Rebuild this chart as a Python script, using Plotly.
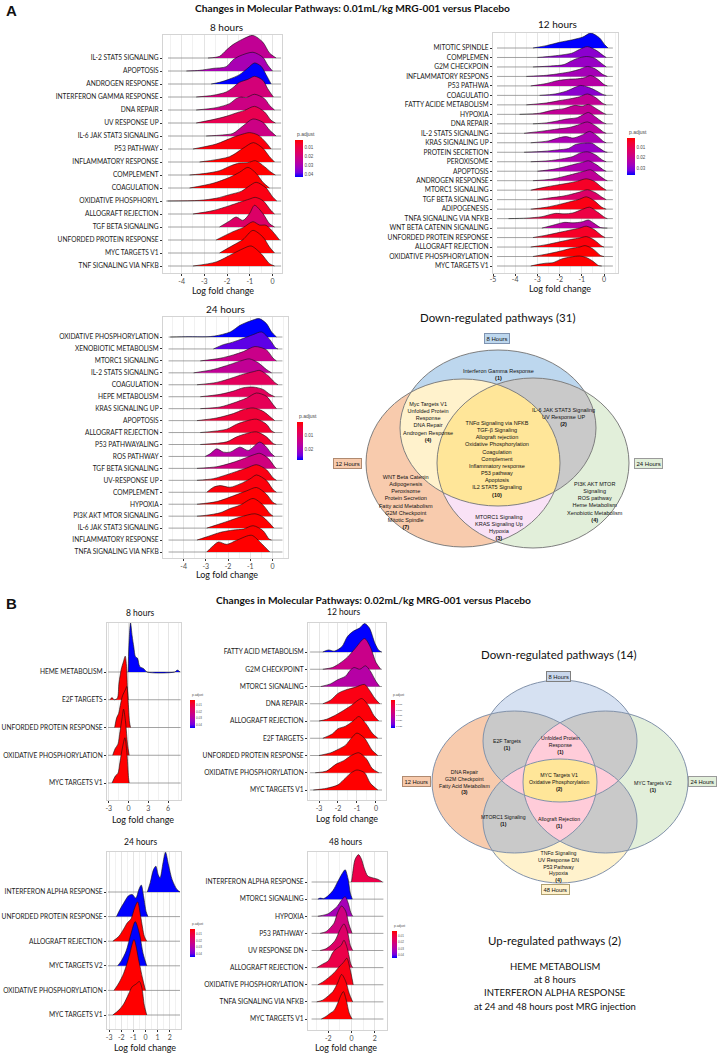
import numpy as np
import plotly.graph_objects as go
from plotly.colors import sample_colorscale

W, H = 717, 1055
CAL = "Lato, 'Open Sans', sans-serif"
ARI = "'Liberation Sans', Arial, sans-serif"

# ---------------------------------------------------------------- data
# each ridge: list of (log fold change, density height in row units)
A8_PATHWAYS = ["IL-2 STAT5 SIGNALING", "APOPTOSIS", "ANDROGEN RESPONSE", "INTERFERON GAMMA RESPONSE",
               "DNA REPAIR", "UV RESPONSE UP", "IL-6 JAK STAT3 SIGNALING", "P53 PATHWAY",
               "INFLAMMATORY RESPONSE", "COMPLEMENT", "COAGULATION", "OXIDATIVE PHOSPHORYL",
               "ALLOGRAFT REJECTION", "TGF BETA SIGNALING", "UNFORDED PROTEIN RESPONSE",
               "MYC TARGETS V1", "TNF SIGNALING VIA NFKB"]
A8_PADJ = [0.024, 0.0295, 0.0426, 0.019, 0.021, 0.0118, 0.0212, 0.0027, 0.0015, 0.0015,
           0.0015, 0.0035, 0.0056, 0.016, 0.0015, 0.0015, 0.0015]
A8_RIDGES = [
    [(-2.84, 0), (-2.33, 0.13), (-2.04, 0.59), (-1.74, 1.03), (-1.30, 1.46), (-0.86, 1.74), (-0.42, 1.21), (-0.13, 0.38), (0.16, 0)],
    [(-3.79, 0), (-3.21, 0.05), (-2.62, 0.2), (-2.04, 0.33), (-1.74, 0.85), (-1.45, 1.15), (-0.86, 1.44), (-0.42, 1.05), (-0.21, 0.46), (0.0, 0)],
    [(-2.70, 0), (-2.33, 0.13), (-1.89, 0.38), (-1.45, 0.72), (-1.08, 1.23), (-0.79, 1.62), (-0.50, 1.36), (-0.28, 0.72), (-0.06, 0)],
    [(-3.36, 0), (-2.62, 0.13), (-2.04, 0.38), (-1.74, 0.72), (-1.45, 1.13), (-1.08, 1.36), (-0.79, 1.59), (-0.42, 1.28), (-0.21, 0.64), (0.04, 0)],
    [(-3.36, 0), (-2.48, 0.18), (-1.89, 0.49), (-1.60, 0.87), (-1.38, 1.0), (-1.16, 0.95), (-0.79, 1.21), (-0.35, 0.87), (-0.13, 0.36), (0.09, 0)],
    [(-3.36, 0), (-2.62, 0.26), (-2.04, 0.51), (-1.60, 0.77), (-1.23, 0.97), (-0.79, 1.28), (-0.35, 0.85), (-0.06, 0.21), (0.13, 0)],
    [(-2.92, 0), (-2.2, 0.08), (-1.74, 0.2), (-1.30, 0.77), (-0.86, 1.31), (-0.42, 1.05), (-0.13, 0.46), (0.16, 0)],
    [(-3.50, 0), (-2.48, 0.38), (-1.74, 0.90), (-1.30, 1.15), (-1.01, 1.26), (-0.64, 1.08), (-0.28, 0.49), (-0.06, 0)],
    [(-3.21, 0), (-1.89, 0.41), (-1.30, 1.05), (-0.84, 1.49), (-0.42, 1.05), (-0.13, 0.41), (0.09, 0)],
    [(-3.65, 0), (-2.92, 0.13), (-2.33, 0.33), (-1.82, 0.72), (-1.45, 0.92), (-1.08, 0.95), (-0.75, 1.10), (-0.35, 0.64), (-0.06, 0.21), (0.13, 0)],
    [(-3.65, 0), (-2.62, 0.36), (-1.89, 0.82), (-1.45, 1.21), (-1.08, 1.59), (-0.72, 1.13), (-0.42, 0.44), (-0.13, 0)],
    [(-4.67, 0), (-3.21, 0.05), (-2.48, 0.21), (-1.89, 0.49), (-1.38, 0.74), (-1.04, 1.13), (-0.72, 1.44), (-0.28, 1.0), (0.01, 0.31), (0.19, 0)],
    [(-3.50, 0), (-2.62, 0.26), (-1.89, 0.64), (-1.45, 0.90), (-1.01, 1.15), (-0.76, 1.28), (-0.42, 1.03), (-0.06, 0.26), (0.09, 0)],
    [(-2.33, 0), (-1.89, 0.46), (-1.60, 0.77), (-1.30, 0.51), (-1.01, 1.03), (-0.79, 1.67), (-0.42, 1.03), (-0.13, 0.26), (0.09, 0)],
    [(-2.48, 0), (-1.74, 0.64), (-1.30, 0.95), (-0.86, 1.41), (-0.57, 1.15), (-0.28, 1.13), (0.09, 0.49), (0.31, 0)],
    [(-2.33, 0), (-1.74, 0.59), (-1.30, 1.03), (-0.86, 1.74), (-0.42, 1.23), (-0.13, 0.46), (0.09, 0)],
    [(-3.50, 0), (-2.48, 0.31), (-1.74, 0.95), (-1.30, 1.33), (-0.94, 1.54), (-0.50, 0.95), (-0.13, 0.18), (0.09, 0)],
]
A8_TICKS = [-4, -3, -2, -1, 0]
A8_CBAR_TICKS = [0.01, 0.02, 0.03, 0.04]

A12_PATHWAYS = ["MITOTIC SPINDLE", "COMPLEMEN", "G2M CHECKPOIN", "INFLAMMATORY RESPONS", "P53 PATHWA",
                "COAGULATIO", "FATTY ACIDE METABOLISM", "HYPOXIA", "DNA REPAIR", "IL-2 STATS SIGNALING",
                "KRAS SIGNALING UP", "PROTEIN SECRETION", "PEROXISOME", "APOPTOSIS", "ANDROGEN RESPONSE",
                "MTORC1 SIGNALING", "TGF BETA SIGNALING", "ADIPOGENESIS", "TNFA SIGNALING VIA NFKB",
                "WNT BETA CATENIN SIGNALING", "UNFORDED PROTEIN RESPONSE", "ALLOGRAFT REJECTION",
                "OXIDATIVE PHOSPHORYLATION", "MYC TARGETS V1"]
A12_PADJ = [0.0364, 0.0293, 0.0279, 0.0258, 0.0230, 0.0293, 0.0205, 0.0205, 0.0230, 0.0223,
            0.0251, 0.0279, 0.0244, 0.0244, 0.0209, 0.0046, 0.0135, 0.0029, 0.0082, 0.0223,
            0.0046, 0.0022, 0.0011, 0.0011]
A12_RIDGES = [
    [(-3.2, 0), (-2.6, 0.25), (-2.0, 0.6), (-1.4, 0.88), (-0.95, 1.16), (-0.6, 1.58), (-0.2, 1.06), (0.03, 0.35), (0.18, 0)],
    [(-3.0, 0), (-2.3, 0.15), (-1.8, 0.3), (-1.45, 0.45), (-1.1, 0.85), (-0.75, 1.15), (-0.35, 0.75), (0.0, 0.15), (0.1, 0)],
    [(-3.2, 0), (-2.4, 0.1), (-1.8, 0.25), (-1.5, 0.6), (-1.2, 0.9), (-0.8, 1.1), (-0.45, 0.95), (-0.1, 0.35), (0.1, 0)],
    [(-3.5, 0), (-2.6, 0.12), (-2.0, 0.3), (-1.5, 0.5), (-1.1, 0.75), (-0.75, 1.05), (-0.4, 0.8), (-0.05, 0.2), (0.15, 0)],
    [(-3.3, 0), (-2.6, 0.25), (-2.1, 0.55), (-1.6, 0.7), (-1.2, 0.75), (-0.9, 0.85), (-0.6, 1.1), (-0.3, 0.75), (0.0, 0.15), (0.15, 0)],
    [(-2.9, 0), (-2.2, 0.15), (-1.7, 0.45), (-1.3, 0.85), (-1.05, 1.05), (-0.7, 0.85), (-0.4, 0.55), (-0.05, 0.1), (0.1, 0)],
    [(-3.5, 0), (-2.6, 0.2), (-2.0, 0.45), (-1.5, 0.65), (-1.1, 0.85), (-0.75, 1.15), (-0.4, 0.8), (-0.05, 0.15), (0.1, 0)],
    [(-3.8, 0), (-2.9, 0.12), (-2.3, 0.45), (-1.8, 0.6), (-1.3, 0.95), (-1.0, 0.85), (-0.7, 1.05), (-0.35, 0.6), (0.0, 0.1), (0.1, 0)],
    [(-3.2, 0), (-2.6, 0.1), (-2.1, 0.3), (-1.7, 0.5), (-1.2, 0.65), (-0.95, 0.95), (-0.7, 1.2), (-0.4, 0.75), (-0.05, 0.15), (0.1, 0)],
    [(-3.6, 0), (-2.7, 0.25), (-2.1, 0.45), (-1.6, 0.6), (-1.2, 0.85), (-0.75, 1.2), (-0.4, 0.8), (0.0, 0.1), (0.1, 0)],
    [(-3.3, 0), (-2.5, 0.2), (-2.0, 0.55), (-1.7, 0.65), (-1.4, 0.5), (-1.0, 0.8), (-0.65, 1.2), (-0.35, 0.8), (0.0, 0.1), (0.1, 0)],
    [(-3.6, 0), (-2.7, 0.1), (-2.1, 0.25), (-1.6, 0.4), (-1.3, 0.8), (-0.95, 0.95), (-0.55, 0.95), (-0.25, 0.5), (0.05, 0.05), (0.15, 0)],
    [(-3.3, 0), (-2.5, 0.1), (-1.9, 0.3), (-1.4, 0.55), (-1.1, 0.9), (-0.75, 1.05), (-0.4, 0.75), (-0.05, 0.15), (0.1, 0)],
    [(-3.0, 0), (-2.3, 0.2), (-1.8, 0.45), (-1.3, 0.75), (-0.95, 0.95), (-0.7, 1.1), (-0.35, 0.7), (0.0, 0.1), (0.1, 0)],
    [(-3.2, 0), (-2.4, 0.15), (-1.8, 0.45), (-1.3, 0.75), (-0.9, 1.0), (-0.6, 1.15), (-0.25, 0.6), (0.05, 0.1), (0.15, 0)],
    [(-3.3, 0), (-2.7, 0.3), (-2.1, 0.55), (-1.6, 0.75), (-1.2, 0.95), (-0.8, 1.2), (-0.45, 0.95), (-0.1, 0.3), (0.1, 0)],
    [(-3.0, 0), (-2.4, 0.2), (-1.9, 0.35), (-1.5, 0.55), (-1.1, 0.8), (-0.75, 1.05), (-0.4, 0.75), (-0.05, 0.2), (0.1, 0)],
    [(-3.3, 0), (-2.6, 0.2), (-2.0, 0.5), (-1.5, 0.8), (-1.1, 1.05), (-0.8, 1.3), (-0.45, 0.9), (-0.1, 0.2), (0.1, 0)],
    [(-4.3, 0), (-3.5, 0.05), (-2.8, 0.2), (-2.2, 0.55), (-1.8, 0.5), (-1.4, 0.6), (-1.0, 0.95), (-0.65, 1.2), (-0.3, 0.7), (0.05, 0.1), (0.15, 0)],
    [(-2.8, 0), (-2.3, 0.3), (-1.8, 0.6), (-1.4, 0.55), (-1.0, 0.65), (-0.7, 0.85), (-0.45, 0.5), (-0.15, 0.05), (0.15, 0)],
    [(-3.2, 0), (-2.6, 0.25), (-2.0, 0.55), (-1.5, 0.8), (-1.1, 1.0), (-0.8, 1.2), (-0.45, 0.85), (-0.1, 0.2), (0.05, 0)],
    [(-3.3, 0), (-2.6, 0.25), (-2.0, 0.55), (-1.5, 0.8), (-1.1, 0.95), (-0.8, 1.1), (-0.45, 0.75), (-0.1, 0.1), (0.0, 0)],
    [(-3.2, 0), (-2.6, 0.25), (-2.0, 0.55), (-1.5, 0.85), (-1.1, 1.0), (-0.85, 1.15), (-0.5, 0.8), (-0.15, 0.1), (0.0, 0)],
    [(-3.3, 0), (-2.9, 0.2), (-2.6, 0.3), (-2.3, 0.35), (-1.9, 0.75), (-1.5, 0.95), (-1.1, 1.05), (-0.8, 0.9), (-0.5, 0.5), (-0.25, 0.05), (-0.1, 0)],
]
A12_TICKS = [-5, -4, -3, -2, -1, 0]
A12_CBAR_TICKS = [0.01, 0.02, 0.03]

A24_PATHWAYS = ["OXIDATIVE PHOSPHORYLATION", "XENOBIOTIC METABOLISM", "MTORC1 SIGNALING", "IL-2 STATS SIGNALING",
                "COAGULATION", "HEPE METABOLISM", "KRAS SIGNALING UP", "APOPTOSIS", "ALLOGRAFT REJECTION",
                "P53 PATHWAYALING", "ROS PATHWAY", "TGF BETA SIGNALING", "UV-RESPONSE UP", "COMPLEMENT",
                "HYPOXIA", "PI3K AKT MTOR SIGNALING", "IL-6 JAK STAT3 SIGNALING", "INFLAMMATORY RESPONSE",
                "TNFA SIGNALING VIA NFKB"]
A24_PADJ = [0.0279, 0.0251, 0.0140, 0.0154, 0.0084, 0.0084, 0.0079, 0.0043, 0.0034, 0.0034,
            0.0168, 0.0126, 0.0015, 0.0009, 0.0001, 0.0001, 0.0001, 0.0001, 0.0001]
A24_RIDGES = [
    [(-4.6, 0), (-3.8, 0.03), (-3.0, 0.02), (-2.6, 0.08), (-1.9, 0.42), (-1.46, 0.98), (-1.0, 1.34), (-0.6, 1.54), (-0.27, 1.12), (-0.04, 0.42), (0.18, 0)],
    [(-2.66, 0), (-2.21, 0.36), (-1.91, 0.5), (-1.46, 0.78), (-0.87, 1.2), (-0.49, 1.42), (-0.12, 0.78), (0.15, 0.08), (0.25, 0)],
    [(-3.25, 0), (-2.36, 0.22), (-1.76, 0.5), (-1.31, 0.78), (-0.79, 1.2), (-0.27, 0.92), (0.03, 0.22), (0.18, 0)],
    [(-3.55, 0), (-2.66, 0.28), (-1.91, 0.7), (-1.46, 0.98), (-1.04, 1.17), (-0.64, 0.84), (-0.27, 0.28), (-0.04, 0)],
    [(-3.40, 0), (-2.51, 0.2), (-1.76, 0.61), (-1.31, 0.89), (-0.87, 1.09), (-0.57, 1.2), (-0.19, 0.75), (0.10, 0.2), (0.25, 0)],
    [(-3.25, 0), (-2.36, 0.2), (-1.76, 0.47), (-1.31, 0.75), (-0.87, 0.81), (-0.42, 0.61), (-0.12, 0.2), (0.10, 0)],
    [(-3.25, 0), (-2.36, 0.14), (-1.76, 0.47), (-1.16, 0.89), (-0.72, 1.31), (-0.27, 1.03), (0.03, 0.34), (0.18, 0)],
    [(-3.40, 0), (-2.51, 0.22), (-1.76, 0.59), (-1.31, 0.92), (-0.87, 1.06), (-0.42, 0.78), (-0.04, 0.22), (0.10, 0)],
    [(-3.25, 0), (-2.06, 0.28), (-1.61, 0.7), (-1.16, 0.98), (-0.72, 1.12), (-0.27, 0.7), (-0.04, 0.14), (0.10, 0)],
    [(-3.25, 0), (-2.06, 0.22), (-1.61, 0.64), (-1.16, 0.92), (-0.72, 1.06), (-0.27, 0.64), (0.03, 0.08), (0.15, 0)],
    [(-3.03, 0), (-2.81, 0.22), (-2.51, 0.64), (-2.21, 0.36), (-1.91, 0.36), (-1.46, 0.78), (-1.09, 0.5), (-0.57, 1.2), (-0.27, 0.78), (-0.04, 0.22), (0.10, 0)],
    [(-3.40, 0), (-2.51, 0.14), (-1.91, 0.42), (-1.46, 0.7), (-0.87, 1.12), (-0.57, 1.26), (-0.19, 0.84), (0.10, 0.14), (0.18, 0)],
    [(-3.40, 0), (-2.66, 0.14), (-2.06, 0.47), (-1.61, 0.75), (-1.16, 1.03), (-0.72, 1.31), (-0.27, 0.89), (0.03, 0.2), (0.18, 0)],
    [(-2.96, 0), (-2.66, 0.42), (-2.36, 0.56), (-1.91, 0.42), (-1.46, 0.7), (-1.01, 1.12), (-0.72, 1.45), (-0.27, 0.98), (0.03, 0.22), (0.18, 0)],
    [(-3.40, 0), (-2.51, 0.22), (-1.76, 0.7), (-1.16, 1.12), (-0.72, 1.4), (-0.27, 0.84), (0.03, 0.14), (0.18, 0)],
    [(-3.40, 0), (-2.96, 0.08), (-2.36, 0.28), (-1.91, 0.64), (-1.46, 0.92), (-0.87, 1.48), (-0.42, 0.92), (-0.12, 0.22), (0.03, 0)],
    [(-2.96, 0), (-2.36, 0.36), (-1.91, 0.64), (-1.46, 0.92), (-0.79, 1.2), (-0.42, 0.92), (-0.04, 0.22), (0.06, 0)],
    [(-3.40, 0), (-2.81, 0.36), (-2.36, 0.64), (-1.76, 0.84), (-1.31, 0.92), (-0.87, 1.2), (-0.42, 0.78), (-0.15, 0.08), (-0.04, 0)],
    [(-2.96, 0), (-2.73, 0.42), (-2.43, 0.84), (-2.06, 0.64), (-1.61, 0.98), (-0.94, 1.4), (-0.49, 0.7), (-0.12, 0)],
]
A24_TICKS = [-4, -3, -2, -1, 0]
A24_CBAR_TICKS = [0.01, 0.02]

B8_PATHWAYS = ["HEME METABOLISM", "E2F TARGETS", "UNFORDED PROTEIN RESPONSE", "OXIDATIVE PHOSPHORYLATION", "MYC TARGETS V1"]
B8_PADJ = [0.045, 0.002, 0.002, 0.002, 0.002]
B8_RIDGES = [
    [(-0.05, 0), (0.05, 0.9), (0.3, 1.78), (0.55, 1.3), (0.8, 0.9), (1.05, 0.55), (1.35, 0.5), (1.7, 0.2), (2.3, 0.12), (2.8, 0), (7.0, 0), (7.4, 0.07), (7.8, 0)],
    [(-2.8, 0), (-2.5, 0.08), (-2.2, 0), (-1.7, 0.05), (-1.45, 0.6), (-1.1, 1.1), (-0.8, 1.35), (-0.5, 1.57), (-0.3, 1.2), (-0.15, 0.3), (-0.05, 0)],
    [(-2.1, 0), (-1.8, 0.35), (-1.5, 0.5), (-1.25, 0.8), (-0.9, 1.15), (-0.5, 1.35), (-0.25, 1.48), (-0.05, 0.9), (0.15, 0.2), (0.3, 0)],
    [(-2.4, 0), (-2.0, 0.25), (-1.6, 0.4), (-1.3, 0.85), (-1.0, 1.3), (-0.75, 1.66), (-0.45, 1.2), (-0.15, 0.4), (0.1, 0)],
    [(-2.5, 0), (-2.0, 0.25), (-1.6, 0.35), (-1.3, 0.75), (-0.9, 1.3), (-0.55, 1.63), (-0.25, 1.1), (0.0, 0.2), (0.1, 0)],
]
B8_TICKS = [-3, 0, 3, 6]
B8_CBAR_TICKS = [0.01, 0.02, 0.03, 0.04]

B12_PATHWAYS = ["FATTY ACID METABOLISM", "G2M CHECKPOINT", "MTORC1 SIGNALING", "DNA REPAIR", "ALLOGRAFT REJECTION",
                "E2F TARGETS", "UNFORDED PROTEIN RESPONSE", "OXIDATIVE PHOSPHORYLATION", "MYC TARGETS V1"]
B12_PADJ = [0.027, 0.014, 0.0171, 0.0023, 0.0015, 0.001, 0.001, 0.001, 0.001]
B12_RIDGES = [
    [(-2.8, 0), (-2.5, 0.12), (-2.2, 0.05), (-1.8, 0.3), (-1.5, 0.9), (-1.2, 1.2), (-0.85, 1.4), (-0.6, 1.65), (-0.35, 1.4), (-0.05, 0.5), (0.15, 0.1), (0.3, 0)],
    [(-2.8, 0), (-2.3, 0.1), (-1.9, 0.35), (-1.5, 0.7), (-1.1, 1.2), (-0.6, 1.78), (-0.3, 1.3), (0.0, 0.4), (0.25, 0)],
    [(-2.9, 0), (-2.4, 0.15), (-2.0, 0.4), (-1.6, 0.6), (-1.35, 0.95), (-1.15, 1.1), (-0.85, 1.0), (-0.55, 1.2), (-0.3, 0.9), (0.0, 0.3), (0.2, 0)],
    [(-2.8, 0), (-2.4, 0.2), (-2.0, 0.6), (-1.6, 0.8), (-1.1, 0.95), (-0.6, 1.12), (-0.35, 0.8), (-0.05, 0.3), (0.2, 0)],
    [(-3.0, 0), (-2.6, 0.1), (-2.2, 0.3), (-1.8, 0.55), (-1.3, 0.9), (-0.75, 1.3), (-0.4, 0.9), (-0.1, 0.3), (0.15, 0)],
    [(-2.8, 0), (-2.3, 0.25), (-2.0, 0.55), (-1.6, 0.7), (-1.2, 1.0), (-0.9, 1.26), (-0.5, 0.8), (-0.2, 0.3), (0.1, 0)],
    [(-3.0, 0), (-2.4, 0.15), (-2.0, 0.35), (-1.6, 0.6), (-1.3, 1.0), (-1.0, 1.3), (-0.6, 1.0), (-0.2, 0.3), (0.1, 0)],
    [(-3.2, 0), (-2.6, 0.1), (-2.1, 0.5), (-1.7, 0.7), (-1.3, 1.0), (-0.9, 1.16), (-0.5, 0.8), (-0.2, 0.25), (0.15, 0)],
    [(-3.3, 0), (-2.6, 0.1), (-2.0, 0.3), (-1.6, 0.7), (-1.3, 1.0), (-1.0, 1.16), (-0.6, 1.0), (-0.3, 0.4), (0.1, 0)],
]
B12_TICKS = [-3, -2, -1, 0]
B12_CBAR_TICKS = [0.005, 0.010, 0.015, 0.020, 0.025]

B24_PATHWAYS = ["INTERFERON ALPHA RESPONSE", "UNFORDED PROTEIN RESPONSE", "ALLOGRAFT REJECTION",
                "MYC TARGETS V2", "OXIDATIVE PHOSPHORYLATION", "MYC TARGETS V1"]
B24_PADJ = [0.045, 0.045, 0.002, 0.045, 0.002, 0.002]
B24_RIDGES = [
    [(0.15, 0), (0.4, 0.4), (0.65, 0.9), (0.85, 1.05), (1.05, 0.7), (1.2, 0.57), (1.45, 1.2), (1.65, 1.62), (1.9, 1.1), (2.2, 0.5), (2.6, 0.1), (2.85, 0)],
    [(-2.4, 0), (-2.1, 0.3), (-1.8, 0.55), (-1.4, 0.85), (-1.1, 0.9), (-0.8, 0.75), (-0.55, 1.1), (-0.35, 1.28), (-0.15, 0.8), (0.05, 0.2), (0.2, 0)],
    [(-2.7, 0), (-2.2, 0.2), (-1.8, 0.5), (-1.5, 0.75), (-1.2, 0.9), (-0.9, 1.35), (-0.65, 1.6), (-0.4, 1.0), (-0.1, 0.2), (0.1, 0)],
    [(-2.3, 0), (-2.0, 0.2), (-1.6, 0.6), (-1.2, 1.3), (-0.85, 1.8), (-0.5, 1.3), (-0.2, 0.5), (0.1, 0)],
    [(-2.6, 0), (-2.2, 0.3), (-1.8, 0.7), (-1.4, 1.3), (-0.95, 2.06), (-0.55, 1.2), (-0.25, 0.5), (0.0, 0)],
    [(-2.7, 0), (-2.2, 0.2), (-1.8, 0.45), (-1.4, 0.85), (-1.1, 1.15), (-0.8, 1.25), (-0.5, 1.36), (-0.3, 1.1), (-0.1, 0.4), (0.1, 0)],
]
B24_TICKS = [-3, -2, -1, 0, 1, 2]
B24_CBAR_TICKS = [0.01, 0.02, 0.03, 0.04]

B48_PATHWAYS = ["INTERFERON ALPHA RESPONSE", "MTORC1 SIGNALING", "HYPOXIA", "P53 PATHWAY", "UV RESPONSE DN",
                "ALLOGRAFT REJECTION", "OXIDATIVE PHOSPHORYLATION", "TNFA SIGNALING VIA NFKB", "MYC TARGETS V1"]
B48_PADJ = [0.0115, 0.045, 0.032, 0.0214, 0.017, 0.0115, 0.0042, 0.0029, 0.002]
B48_RIDGES = [
    [(0.0, 0), (0.1, 0.5), (0.3, 1.3), (0.6, 1.6), (0.85, 1.35), (1.1, 0.8), (1.4, 0.35), (1.8, 0.25), (2.3, 0.15), (2.66, 0)],
    [(-2.9, 0), (-2.7, 0.06), (-2.4, 0.03), (-2.1, 0.15), (-1.6, 0.5), (-1.2, 1.0), (-0.8, 1.5), (-0.55, 1.72), (-0.3, 1.2), (-0.1, 0.35), (0.07, 0)],
    [(-2.9, 0), (-2.5, 0.05), (-2.0, 0.15), (-1.6, 0.35), (-1.2, 0.6), (-0.9, 0.9), (-0.55, 1.15), (-0.3, 0.8), (-0.05, 0.2), (0.1, 0)],
    [(-2.7, 0), (-2.2, 0.1), (-1.8, 0.35), (-1.5, 0.6), (-1.2, 1.2), (-0.85, 1.6), (-0.5, 1.3), (-0.25, 0.6), (0.05, 0)],
    [(-2.7, 0), (-2.2, 0.1), (-1.8, 0.3), (-1.4, 0.6), (-1.0, 1.2), (-0.65, 1.55), (-0.35, 1.1), (-0.1, 0.3), (0.1, 0)],
    [(-3.0, 0), (-2.5, 0.2), (-2.0, 0.4), (-1.6, 0.9), (-1.3, 1.1), (-0.9, 1.3), (-0.65, 1.6), (-0.35, 1.1), (-0.05, 0.2), (0.1, 0)],
    [(-2.9, 0), (-2.5, 0.15), (-2.0, 0.4), (-1.5, 0.7), (-1.0, 1.1), (-0.7, 1.3), (-0.4, 1.55), (-0.15, 1.0), (0.15, 0)],
    [(-3.0, 0), (-2.5, 0.1), (-2.0, 0.35), (-1.6, 0.6), (-1.2, 1.1), (-0.85, 1.6), (-0.5, 1.2), (-0.2, 0.5), (0.1, 0)],
    [(-2.6, 0), (-2.2, 0.15), (-1.8, 0.35), (-1.5, 0.5), (-1.2, 0.9), (-0.9, 1.4), (-0.7, 1.6), (-0.45, 1.1), (-0.2, 0.35), (0.05, 0)],
]
B48_TICKS = [-2, 0, 2]
B48_CBAR_TICKS = [0.01, 0.02, 0.03, 0.04]

# Venn diagram texts
VENN_A_TITLE = "Down-regulated pathways (31)"
VENN_A_SETS = ["8 Hours", "12 Hours", "24 Hours"]
VENN_A_TEXT = [
    ["Interferon Gamma Response", "(1)"],
    ["Myc Targets V1", "Unfolded Protein", "Response", "DNA Repair", "Androgen Response", "(4)"],
    ["IL-6 JAK STAT3 Signaling", "UV Response UP", "(2)"],
    ["TNFα Signaling via NFKB", "TGF-β Signaling", "Allograft rejection", "Oxidative Phosphorylation",
     "Coagulation", "Complement", "Inflammatory response", "P53 pathway", "Apoptosis", "IL2 STAT5 Signaling", "(10)"],
    ["WNT Beta Catenin", "Adipogenesis", "Peroxisome", "Protein Secretion", "Fatty acid Metabolism",
     "G2M Checkpoint", "Mitotic Spindle", "(7)"],
    ["PI3K AKT MTOR", "Signaling", "ROS pathway", "Heme Metabolism", "Xenobiotic Metabolism", "(4)"],
    ["MTORC1 Signaling", "KRAS Signaling Up", "Hypoxia", "(3)"],
]
VENN_B_TITLE = "Down-regulated pathways (14)"
VENN_B_SETS = ["8 Hours", "12 Hours", "24 Hours", "48 Hours"]
VENN_B_TEXT = [
    ["E2F Targets", "(1)"],
    ["Unfolded Protein", "Response", "(1)"],
    ["DNA Repair", "G2M Checkpoint", "Fatty Acid Metabolism", "(3)"],
    ["MYC Targets V1", "Oxidative Phosphorylation", "(2)"],
    ["MYC Targets V2", "(1)"],
    ["MTORC1 Signaling", "(1)"],
    ["Allograft Rejection", "(1)"],
    ["TNFα Signaling", "UV Response DN", "P53 Pathway", "Hypoxia", "(4)"],
]
UP_TITLE = "Up-regulated pathways (2)"
UP_LINES = ["HEME METABOLISM", "at 8 hours", "INTERFERON ALPHA RESPONSE", "at 24 and 48 hours post MRG injection"]

TITLE_A = "Changes in Molecular Pathways: 0.01mL/kg MRG-001 versus Placebo"
TITLE_B = "Changes in Molecular Pathways: 0.02mL/kg MRG-001 versus Placebo"

# ---------------------------------------------------------------- styling / layout
PADJ_SCALE = [[0, '#FF0000'], [0.125, '#F40031'], [0.25, '#E80050'], [0.375, '#DA006C'], [0.5, '#C90089'],
              [0.625, '#B500A6'], [0.75, '#9B00C3'], [0.875, '#7300E0'], [1, '#0000FF']]
REV_SCALE = [[round(1 - s, 4), c] for s, c in reversed(PADJ_SCALE)]

PANELS = [
    dict(names=A8_PATHWAYS, padj=A8_PADJ, ridges=A8_RIDGES, ticks=A8_TICKS, minor=(0, 0.5), cticks=A8_CBAR_TICKS,
         box=(163, 282, 35, 273), rows=(58, 266), xr=(-4.82, 0.42), span=(-4.6, 0.38), so=0,
         cbar=(295, 8, 140, 177), cfs=4.5, title="8 hours", txy=(226, 27), tsz=10, lxy=(223, 290), fs=6.6, xfs=7),
    dict(names=A12_PATHWAYS, padj=A12_PADJ, ridges=A12_RIDGES, ticks=A12_TICKS, minor=(0, 0.5), cticks=A12_CBAR_TICKS,
         box=(493, 618, 33, 273), rows=(48, 266), xr=(-5.0, 0.63), span=(-4.82, 0.4), so=-2,
         cbar=(627, 8, 138, 175), cfs=4.5, title="12 hours", txy=(557, 24), tsz=10, lxy=(560, 288), fs=6.6, xfs=7),
    dict(names=A24_PATHWAYS, padj=A24_PADJ, ridges=A24_RIDGES, ticks=A24_TICKS, minor=(0, 0.5), cticks=A24_CBAR_TICKS,
         box=(163, 288, 317, 558), rows=(337, 552), xr=(-4.93, 0.7), span=(-4.68, 0.45), so=0,
         cbar=(297, 6, 422, 460), cfs=4.5, title="24 hours", txy=(225, 309), tsz=10, lxy=(227, 574), fs=6.6, xfs=7),
    dict(names=B8_PATHWAYS, padj=B8_PADJ, ridges=B8_RIDGES, ticks=B8_TICKS, minor=(1.5, 3), cticks=B8_CBAR_TICKS,
         box=(107, 181, 623, 800), rows=(672, 783), xr=(-3.26, 7.95), span=(-3.1, 7.9), so=0,
         cbar=(190, 5, 700, 728), cfs=3, title="8 hours", txy=(140, 613), tsz=8.5, lxy=(143, 819), fs=6.6, xfs=7),
    dict(names=B12_PATHWAYS, padj=B12_PADJ, ridges=B12_RIDGES, ticks=B12_TICKS, minor=(0, 0.5), cticks=B12_CBAR_TICKS,
         box=(308, 386, 623, 800), rows=(652, 790), xr=(-3.58, 0.53), span=(-3.47, 0.32), so=0,
         cbar=(391, 4, 700, 728), cfs=2.5, title="12 hours", txy=(343, 612), tsz=8.5, lxy=(347, 818), fs=6.6, xfs=7),
    dict(names=B24_PATHWAYS, padj=B24_PADJ, ridges=B24_RIDGES, ticks=B24_TICKS, minor=(0, 0.5), cticks=B24_CBAR_TICKS,
         box=(107, 181, 852, 1029), rows=(892, 1015), xr=(-3.18, 2.93), span=(-3.1, 2.85), so=0,
         cbar=(190, 5, 929, 957), cfs=3, title="24 hours", txy=(140, 842), tsz=8.5, lxy=(145, 1047), fs=6.6, xfs=7),
    dict(names=B48_PATHWAYS, padj=B48_PADJ, ridges=B48_RIDGES, ticks=B48_TICKS, minor=(1, 2), cticks=B48_CBAR_TICKS,
         box=(308, 387, 852, 1030), rows=(882, 1019), xr=(-3.75, 3.06), span=(-3.44, 2.75), so=0,
         cbar=(392, 5, 931, 958), cfs=3, title="48 hours", txy=(345, 842), tsz=8.5, lxy=(346, 1047), fs=6.6, xfs=7),
]

fig = go.Figure()
layout = dict(width=W, height=H, margin=dict(l=0, r=0, t=0, b=0), paper_bgcolor='white',
              plot_bgcolor='rgba(0,0,0,0)', showlegend=False, template='none', font=dict(family=CAL))
annotations = []
shapes = []


def txt(x, y, text, size, family=CAL, color='#111111', xanchor='center', yanchor='middle', **kw):
    annotations.append(dict(x=x, y=y, xref='x8', yref='y8', text=text, showarrow=False,
                            font=dict(size=size, family=family, color=color),
                            xanchor=xanchor, yanchor=yanchor, **kw))


def fmt_tick(v):
    return ("-" if v < 0 else "") + str(abs(v))


for i, p in enumerate(PANELS, start=1):
    xa, ya = ('x', 'y') if i == 1 else (f'x{i}', f'y{i}')
    n = len(p['names'])
    x0, x1, t, b = p['box']
    f, l = p['rows']
    ppu = (l - f) / (n - 1)
    ymin = -(b - l) / ppu
    ymax = (n - 1) + (f - t) / ppu
    cmin, cmax = min(p['padj']), max(p['padj'])
    lo, hi = p['span']
    for r, (name, pv, knots) in enumerate(zip(p['names'], p['padj'], p['ridges'])):
        base = n - 1 - r
        fig.add_trace(go.Scatter(x=[lo, hi], y=[base, base], mode='lines',
                                 line=dict(color='#8c8c8c', width=0.8), xaxis=xa, yaxis=ya,
                                 hoverinfo='skip', showlegend=False))
        tt = (pv - cmin) / (cmax - cmin) if cmax > cmin else 0
        col = sample_colorscale(PADJ_SCALE, [min(max(tt, 0), 1)])[0]
        fig.add_trace(go.Scatter(x=[k[0] for k in knots], y=[base + k[1] for k in knots], mode='lines',
                                 fill='toself', fillcolor=col,
                                 line=dict(color='#111111', width=0.6, shape='spline', smoothing=0.8),
                                 xaxis=xa, yaxis=ya, hoverinfo='skip', showlegend=False))
    # colour bar (reversed so that small p.adjust = red sits on top)
    cx, cw, ct, cb = p['cbar']
    ca = f'coloraxis{i}' if i > 1 else 'coloraxis'
    fig.add_trace(go.Scatter(x=[p['xr'][0]], y=[ymin - 10], mode='markers',
                             marker=dict(size=1, opacity=0, color=[-cmin], coloraxis=ca),
                             xaxis=xa, yaxis=ya, hoverinfo='skip', showlegend=False))
    layout[ca] = dict(colorscale=REV_SCALE, cmin=-cmax, cmax=-cmin,
                      colorbar=dict(x=cx / W, xanchor='left', y=1 - ct / H, yanchor='top',
                                    len=cb - ct, lenmode='pixels', thickness=cw, thicknessmode='pixels',
                                    xpad=0, ypad=0, outlinewidth=0, ticks='', ticklen=0,
                                    tickvals=[-v for v in p['cticks']],
                                    ticktext=[f"{v:.3f}" if i == 5 else f"{v:.2f}" for v in p['cticks']],
                                    tickfont=dict(size=p['cfs'], color='#4d4d4d', family=ARI)))
    txt(cx - 0.5, ct - 1, "p.adjust", 5 if i <= 3 else 3.2, family=ARI, color='#4d4d4d',
        xanchor='left', yanchor='bottom')
    # axes
    kx = 'xaxis' if i == 1 else f'xaxis{i}'
    ky = 'yaxis' if i == 1 else f'yaxis{i}'
    layout[kx] = dict(domain=[x0 / W, x1 / W], range=list(p['xr']), anchor=ya, automargin=False,
                      tickmode='array', tickvals=p['ticks'], ticktext=[fmt_tick(v) for v in p['ticks']],
                      tickfont=dict(size=p['xfs'], color='#4d4d4d', family=CAL),
                      ticks='outside', ticklen=2, tickwidth=0.8, tickcolor='#333333',
                      ticklabelstandoff=p['so'],
                      showgrid=True, gridcolor='#e4e4e4', gridwidth=0.8,
                      minor=dict(tickmode='linear', tick0=p['minor'][0], dtick=p['minor'][1],
                                 showgrid=True, gridcolor='#f1f1f1', gridwidth=0.6, ticks=''),
                      showline=True, mirror=True, linecolor='#d4d4d4', linewidth=1,
                      zeroline=False, fixedrange=True)
    layout[ky] = dict(domain=[1 - b / H, 1 - t / H], range=[ymin, ymax], anchor=xa, automargin=False,
                      tickmode='array', tickvals=[n - 1 - r for r in range(n)], ticktext=p['names'],
                      tickfont=dict(size=p['fs'], color='#1a1a1a', family=CAL),
                      ticks='outside', ticklen=2, tickwidth=0.8, tickcolor='#333333',
                      showgrid=False, showline=True, mirror=True, linecolor='#d4d4d4', linewidth=1,
                      zeroline=False, fixedrange=True)
    txt(p['txy'][0], p['txy'][1], p['title'], p['tsz'])
    txt(p['lxy'][0], p['lxy'][1], "Log fold change", 9)

# ---------------------------------------------------------------- Venn diagrams (canvas axes in pixels)
layout['xaxis8'] = dict(domain=[0, 1], range=[0, W], visible=False, fixedrange=True, automargin=False)
layout['yaxis8'] = dict(domain=[0, 1], range=[H, 0], visible=False, fixedrange=True, automargin=False)


def venn_heatmap(ellipses, palette, code_fn, x0, x1, y0, y1):
    xs = np.arange(x0, x1, 1.0) + 0.5
    ys = np.arange(y0, y1, 1.0) + 0.5
    X, Y = np.meshgrid(xs, ys)
    masks = [((X - cx) / rx) ** 2 + ((Y - cy) / ry) ** 2 <= 1 for cx, cy, rx, ry in ellipses]
    z = [[None] * len(xs) for _ in ys]
    for j in range(len(ys)):
        for k in range(len(xs)):
            mem = [m[j, k] for m in masks]
            if any(mem):
                z[j][k] = code_fn(mem)
    K = len(palette)
    cs = []
    for idx, c in enumerate(palette):
        cs.append([idx / K, c])
        cs.append([(idx + 1) / K, c])
    fig.add_trace(go.Heatmap(x=xs, y=ys, z=z, colorscale=cs, zmin=-0.5, zmax=K - 0.5, showscale=False,
                             hoverinfo='skip', xaxis='x8', yaxis='y8', zsmooth=False))


# Panel A Venn: 8h (top), 12h (left), 24h (right)
ELL_A = [(498, 428, 98, 78), (463, 463, 97, 84), (533, 463, 96, 85)]
PAL_A = ['#BDD7EE', '#F8CBAD', '#E2EFDA', '#FFF2CC', '#C9C9C9', '#F9E2F6', '#FFE699']


def code_a(mem):
    table = {(1, 0, 0): 0, (0, 1, 0): 1, (0, 0, 1): 2, (1, 1, 0): 3, (1, 0, 1): 4, (0, 1, 1): 5, (1, 1, 1): 6}
    return table[tuple(int(v) for v in mem)]


venn_heatmap(ELL_A, PAL_A, code_a, 360, 640, 345, 552)
for cx, cy, rx, ry in ELL_A:
    shapes.append(dict(type='circle', xref='x8', yref='y8', x0=cx - rx, x1=cx + rx, y0=cy - ry, y1=cy + ry,
                       line=dict(color='#7f7f7f', width=1), fillcolor='rgba(0,0,0,0)'))

# Panel B Venn: 8h (top), 12h (left), 24h (right), 48h (bottom)
ELL_B = [(560, 741, 77, 61), (514.5, 782, 82.5, 71), (605.5, 782, 82.5, 71), (560, 821, 77, 62)]
PAL_B = ['#D6E1F2', '#F8CBAD', '#E2EFDA', '#FFF2CC', '#C9C9C9', '#FFCCD9', '#FFE699']


def code_b(mem):
    cnt = int(sum(mem))
    if cnt == 1:
        return [int(v) for v in mem].index(1)
    return {2: 4, 3: 5, 4: 6}[cnt]


venn_heatmap(ELL_B, PAL_B, code_b, 425, 695, 672, 892)
for cx, cy, rx, ry in ELL_B:
    shapes.append(dict(type='circle', xref='x8', yref='y8', x0=cx - rx, x1=cx + rx, y0=cy - ry, y1=cy + ry,
                       line=dict(color='#8292aa', width=1), fillcolor='rgba(0,0,0,0)'))


def block(x, y, lines, size=5.5):
    body = "<br>".join(f"<b>{s}</b>" if s.startswith("(") else s for s in lines)
    txt(x, y, body, size, family=ARI, color='#111111')


A_POS = [(498, 374), (428, 422), (563, 417), (497, 459), (406, 501.5), (595, 501.5), (499, 527)]
for (x, y), lines in zip(A_POS, VENN_A_TEXT):
    block(x, y, lines)
B_POS = [(507, 744), (560, 745), (464, 782), (559, 782), (653, 786), (503, 820), (559, 822), (558, 866)]
for (x, y), lines in zip(B_POS, VENN_B_TEXT):
    block(x, y, lines, 5.2)

# set labels
for (x, y), lab, bg, bd in zip([(497, 338), (347, 463), (648, 463)], VENN_A_SETS,
                               ['#BDD7EE', '#F8CBAD', '#E2EFDA'], ['#7f93b0', '#b08a70', '#9a9a9a']):
    txt(x, y, lab, 6, family=ARI, bgcolor=bg, bordercolor=bd, borderwidth=1, borderpad=1.5)
for (x, y), lab, bg, bd in zip([(558, 676), (416, 781), (702, 781), (555, 889)], VENN_B_SETS,
                               ['#C9D7EC', '#F8CBAD', '#E2EFDA', '#FFF2CC'],
                               ['#7f7f7f', '#b08a70', '#9a9a9a', '#b0a070']):
    txt(x, y, lab, 5.8, family=ARI, bgcolor=bg, bordercolor=bd, borderwidth=1, borderpad=1.5)

txt(498, 317, VENN_A_TITLE, 11.5)
txt(559, 654, VENN_B_TITLE, 11.5)
txt(554, 940, UP_TITLE, 11.5)
for y, s in zip([966, 979, 992, 1006], UP_LINES):
    txt(555, y, s, 9.5)

# headers
txt(352, 8, f"<b>{TITLE_A}</b>", 10.2)
txt(373, 600, f"<b>{TITLE_B}</b>", 10.2)
txt(4, 10, "<b>A</b>", 15, family=ARI, xanchor='left')
txt(4, 603, "<b>B</b>", 15, family=ARI, xanchor='left')

layout['annotations'] = annotations
layout['shapes'] = shapes
fig.update_layout(**layout)
fig.write_html("out.html", config={"displayModeBar": False},
               post_script="document.body.style.margin='0';document.body.style.overflow='hidden';")
